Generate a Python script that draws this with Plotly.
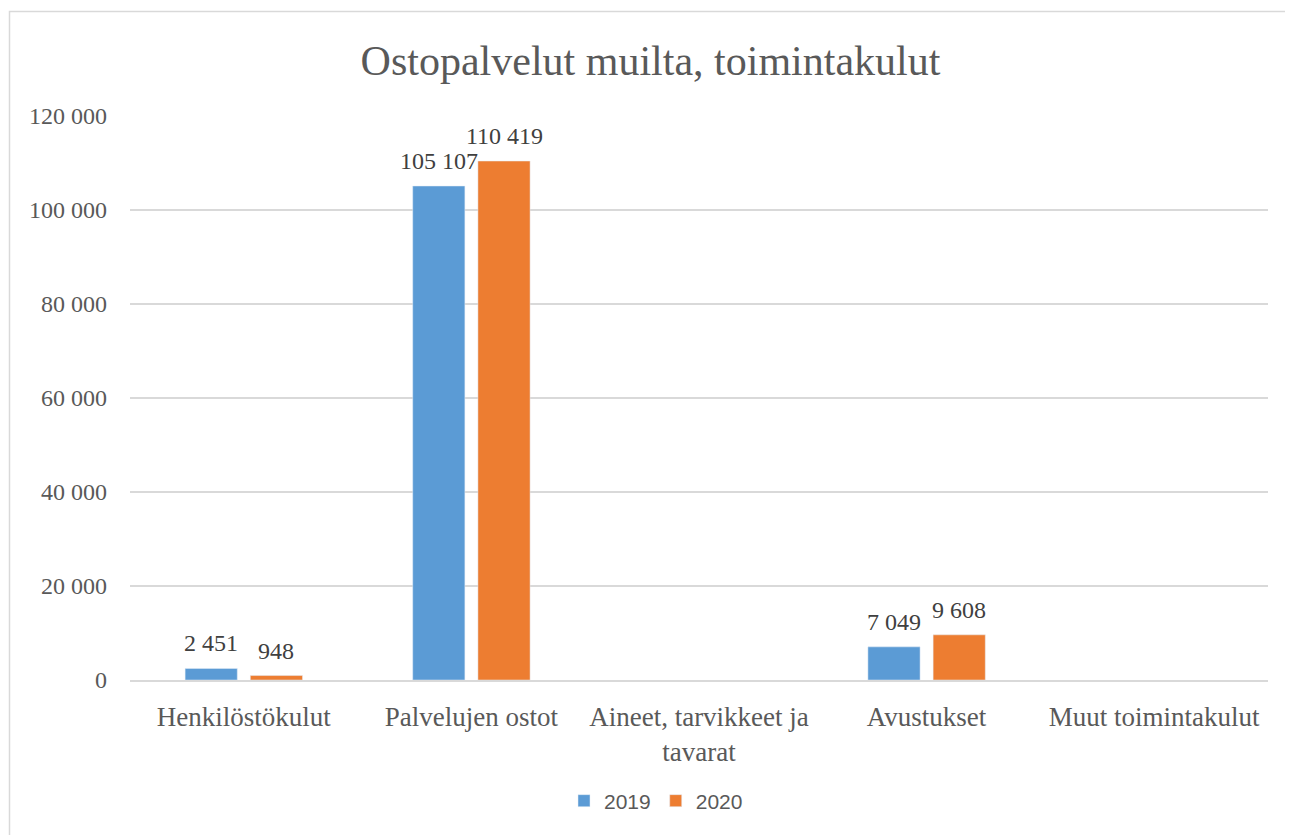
import plotly.graph_objects as go

categories = ["Henkilöstökulut", "Palvelujen ostot", "Aineet, tarvikkeet ja<br>tavarat",
              "Avustukset", "Muut toimintakulut"]
values_2019 = [2451, 105107, None, 7049, None]
values_2020 = [948, 110419, None, 9608, None]
tick_vals = [0, 20000, 40000, 60000, 80000, 100000, 120000]

SERIF = "Liberation Serif"
GREY = "#595959"

# page body adds an 8px offset, so the figure is 8px smaller than the window
W, H = 1285, 827
L, T = 122, 108
pw, ph = 1138, 564
R, B = W - L - pw, H - T - ph
BARGAP = 0.427

fig = go.Figure()
fig.add_trace(go.Bar(x=categories, y=values_2019, name="2019", marker_color="#5B9BD5"))
fig.add_trace(go.Bar(x=categories, y=values_2020, name="2020", marker_color="#ED7D31"))

# value labels above the bars, a little higher than plotly's own outside text
slot = pw / len(categories) * (1 - BARGAP) / 2
for vals, shift in [(values_2019, -slot / 2), (values_2020, slot / 2)]:
    for cat, v in zip(categories, vals):
        if v is None:
            continue
        fig.add_annotation(x=cat, y=v, text=f"{v:,}".replace(",", " "), showarrow=False,
                           xshift=shift, yshift=10, yanchor="bottom",
                           font=dict(family=SERIF, size=24, color="#404040"))

# light frame round the chart (top and left edges visible)
fig.add_shape(type="rect", xref="paper", yref="paper",
              x0=(1.5 - L) / pw, x1=(W + 20 - L) / pw,
              y0=-(B + 20) / ph, y1=(H - B - 3.5) / ph,
              line=dict(color="#D9D9D9", width=1.5), layer="below")

fig.update_layout(
    width=W, height=H,
    margin=dict(l=L, r=R, t=T, b=B, autoexpand=False),
    paper_bgcolor="white", plot_bgcolor="white",
    separators=", ",
    barmode="group", bargap=BARGAP, bargroupgap=0.2,
    title=dict(text="Ostopalvelut muilta, toimintakulut", x=0.5, xanchor="center",
               y=1 - 52 / H, yanchor="middle",
               font=dict(family=SERIF, size=42, color=GREY)),
    xaxis=dict(tickfont=dict(family=SERIF, size=27, color=GREY), showline=True,
               linecolor="#D9D9D9", linewidth=1.5, ticklabelstandoff=12, tickangle=0,
               automargin=False),
    yaxis=dict(range=[0, 120000], tickvals=tick_vals, tickformat=",",
               tickfont=dict(family=SERIF, size=24, color=GREY),
               gridcolor="#D9D9D9", gridwidth=1.5, zeroline=False,
               ticklabelstandoff=22, automargin=False),
    legend=dict(orientation="h", x=(648 - L) / pw, xanchor="center", y=-121 / ph,
                yanchor="middle",
                font=dict(family="Liberation Sans", size=21, color=GREY),
                itemwidth=30, traceorder="normal"),
    showlegend=True,
)

fig.write_html("out.html")
